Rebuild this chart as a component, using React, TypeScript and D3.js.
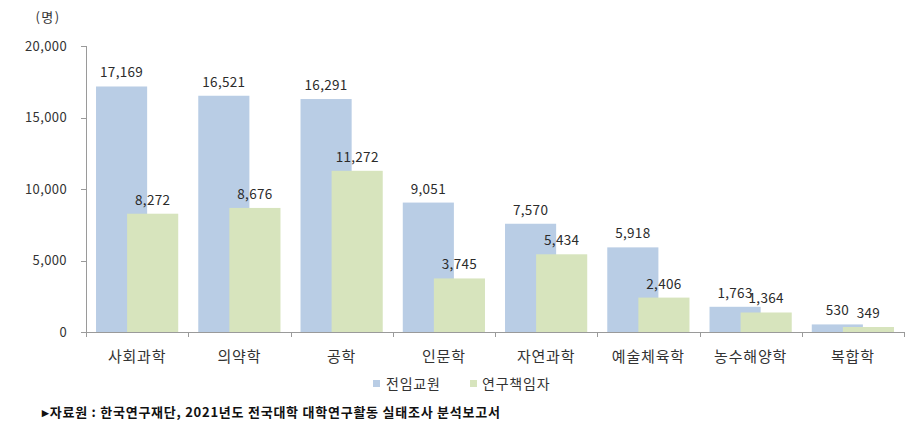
import React from "react";
import * as d3 from "d3";

const categories = ["사회과학", "의약학", "공학", "인문학", "자연과학", "예술체육학", "농수해양학", "복합학"];
const fullTime = [17169, 16521, 16291, 9051, 7570, 5918, 1763, 530];
const principal = [8272, 8676, 11272, 3745, 5434, 2406, 1364, 349];
const seriesNames = ["전임교원", "연구책임자"];
const yTicks = [0, 5000, 10000, 15000, 20000];
const unitLabel = "(명)";
const sourceText = "▸자료원 : 한국연구재단, 2021년도 전국대학 대학연구활동 실태조사 분석보고서";

const W = 920;
const H = 440;
const BLUE = "#b9cde5";
const GREEN = "#d7e4bd";
const FONT = "'Noto Sans CJK KR', 'Noto Sans', sans-serif";

export default function App() {
  const x = d3.scaleBand<string>().domain(categories).range([86, 904]).paddingInner(0).paddingOuter(0);
  const y = d3.scaleLinear().domain([0, 20000]).range([332, 46]);
  const bw = x.bandwidth();
  const barW = bw * 0.5;
  const off = bw * 0.152;
  const fmt = d3.format(",");

  return (
    <div style={{ position: "absolute", left: 0, top: 0, width: W, height: H, background: "#fff" }}>
      <svg width={W} height={H} style={{ display: "block", fontFamily: FONT }}>
        <rect x={0} y={0} width={W} height={H} fill="#fff" />
        <text x={48} y={22} fontSize={13} fill="#333" textAnchor="middle" letterSpacing={1.5}>{unitLabel}</text>

        {/* y axis */}
        <line x1={86.5} x2={86.5} y1={y(20000)} y2={337} stroke="#9a9a9a" strokeWidth={1} />
        {yTicks.map((t) => (
          <g key={t}>
            <line x1={81} x2={86.5} y1={Math.round(y(t)) + 0.5} y2={Math.round(y(t)) + 0.5} stroke="#9a9a9a" />
            <text x={67} y={y(t)} dy="0.36em" fontSize={13} fill="#333" textAnchor="end" letterSpacing={0.4}>
              {fmt(t)}
            </text>
          </g>
        ))}

        {/* bars */}
        {categories.map((c, i) => {
          const cx = (x(c) as number) + bw / 2;
          const bx = cx - off - barW / 2;
          const gx = cx + off - barW / 2;
          return (
            <g key={c}>
              <rect x={bx} y={y(fullTime[i])} width={barW} height={y(0) - y(fullTime[i])} fill={BLUE} />
              <rect x={gx} y={y(principal[i])} width={barW} height={y(0) - y(principal[i])} fill={GREEN} />
            </g>
          );
        })}

        {/* value labels */}
        {categories.map((c, i) => {
          const cx = (x(c) as number) + bw / 2;
          return (
            <g key={"l" + c} fontSize={13.5} fill="#2b2b2b" textAnchor="middle" letterSpacing={0.3}>
              <text x={cx - off} y={y(fullTime[i]) - 9}>{fmt(fullTime[i])}</text>
              <text x={cx + off} y={y(principal[i]) - 9}>{fmt(principal[i])}</text>
            </g>
          );
        })}

        {/* x axis */}
        <line x1={86} x2={904} y1={332.5} y2={332.5} stroke="#9a9a9a" />
        {categories.map((c) => (
          <line key={"t" + c} x1={Math.round((x(c) as number) + bw) + 0.5} x2={Math.round((x(c) as number) + bw) + 0.5} y1={332} y2={337} stroke="#9a9a9a" />
        ))}
        {categories.map((c) => (
          <text key={"c" + c} x={(x(c) as number) + bw / 2} y={362} fontSize={15} fill="#333" textAnchor="middle" letterSpacing={0.8}>
            {c}
          </text>
        ))}

        {/* legend */}
        <rect x={373} y={380} width={7} height={7} fill={BLUE} />
        <text x={386} y={388.5} fontSize={14} fill="#333" letterSpacing={0.8}>{seriesNames[0]}</text>
        <rect x={470} y={380} width={7} height={7} fill={GREEN} />
        <text x={482} y={388.5} fontSize={14} fill="#333" letterSpacing={0.8}>{seriesNames[1]}</text>

        {/* source */}
        <text x={42} y={417} fontSize={13} fontWeight="bold" fill="#111" letterSpacing={0.75}>{sourceText}</text>
      </svg>
    </div>
  );
}
